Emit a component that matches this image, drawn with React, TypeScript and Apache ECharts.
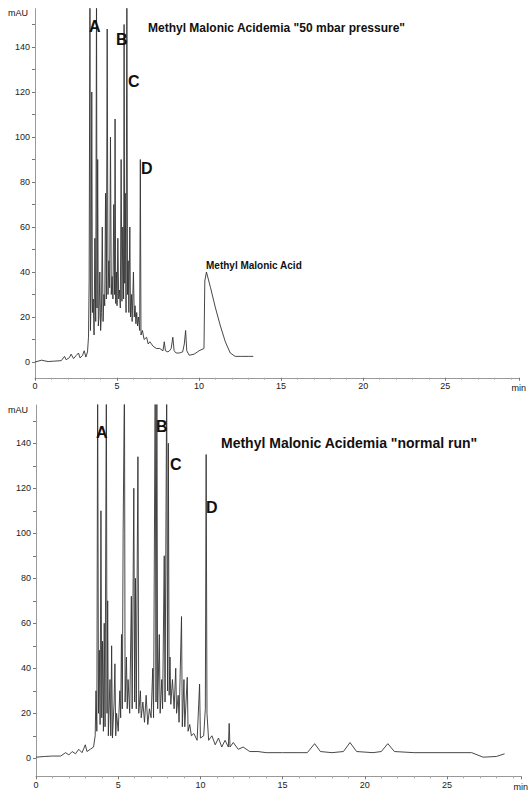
import React, { useEffect, useRef } from "react";
import * as echarts from "echarts";

// Axis tick values
const yLabelValues = [0, 20, 40, 60, 80, 100, 120, 140];
const yTickValues = [0, 10, 20, 30, 40, 50, 60, 70, 80, 90, 100, 110, 120, 130, 140, 150];

// Top chromatogram ("50 mbar pressure"): [time (min), absorbance (mAU)]
const topBaseline: [number, number][] = [
  [0, 0], [0.4, 0.8], [0.8, 0.2], [1.2, 0.4], [1.6, 0.6], [1.8, 2.5], [1.9, 1], [2.1, 2],
  [2.2, 3.5], [2.35, 1.5], [2.5, 2.8], [2.65, 4], [2.75, 1.8], [2.9, 3], [3.0, 5], [3.1, 2.2],
  [3.2, 4.5], [3.26, 11],
];
const topCluster: [number, number][] = [
  [3.3, 36], [3.35, 170], [3.38, 14], [3.42, 30], [3.46, 120], [3.5, 22], [3.55, 28], [3.6, 12],
  [3.65, 55], [3.7, 18], [3.75, 170], [3.78, 24], [3.82, 90], [3.86, 16], [3.9, 20], [3.95, 40],
  [4.0, 14], [4.05, 22], [4.1, 60], [4.15, 18], [4.2, 30], [4.25, 25], [4.3, 75], [4.35, 28],
  [4.4, 148], [4.45, 30], [4.5, 45], [4.55, 33], [4.6, 100], [4.65, 30], [4.7, 38], [4.75, 28],
  [4.8, 70], [4.85, 30], [4.88, 108], [4.92, 26], [4.96, 40], [5.0, 25], [5.05, 55], [5.1, 28],
  [5.15, 32], [5.2, 24], [5.25, 90], [5.3, 27], [5.35, 60], [5.4, 28], [5.43, 150], [5.47, 35],
  [5.5, 75], [5.55, 22], [5.6, 170], [5.64, 30], [5.68, 45], [5.72, 22], [5.78, 60], [5.82, 20],
  [5.88, 30], [5.92, 18], [6.0, 40], [6.05, 20], [6.1, 25], [6.15, 17], [6.2, 22], [6.25, 16],
  [6.3, 20], [6.38, 14], [6.42, 90], [6.46, 12],
];
const topTail: [number, number][] = [
  [6.55, 14], [6.65, 10], [6.8, 11], [6.9, 8], [7.0, 9], [7.2, 7], [7.4, 6], [7.6, 6], [7.8, 5],
  [7.88, 9], [7.95, 5], [8.1, 4.5], [8.2, 5], [8.3, 6], [8.4, 11], [8.48, 5], [8.6, 4], [8.8, 4],
  [9.0, 4.5], [9.1, 8], [9.18, 14], [9.25, 5], [9.4, 3], [9.7, 3.5], [10.0, 5], [10.3, 6],
  [10.35, 36], [10.45, 40], [10.7, 33], [11.0, 24], [11.3, 16], [11.6, 9], [11.9, 4], [12.2, 2.5],
  [12.6, 2.5], [13.0, 2.5], [13.3, 2.5],
];

// Bottom chromatogram ("normal run")
const bottomBaseline: [number, number][] = [
  [0, 0.5], [0.5, 0.8], [1.0, 1], [1.5, 1], [1.8, 2.5], [2.0, 1.5], [2.2, 3], [2.4, 2], [2.6, 4],
  [2.8, 2.5], [3.0, 6], [3.1, 3], [3.3, 4], [3.5, 5], [3.6, 10],
];
const bottomCluster: [number, number][] = [
  [3.65, 30], [3.7, 12], [3.75, 170], [3.8, 20], [3.85, 48], [3.9, 15], [3.95, 110], [4.0, 18],
  [4.05, 52], [4.1, 12], [4.15, 60], [4.2, 14], [4.28, 170], [4.32, 20], [4.36, 70], [4.4, 10],
  [4.5, 35], [4.55, 10], [4.6, 50], [4.65, 9], [4.75, 25], [4.8, 42], [4.85, 10], [4.9, 20],
  [5.0, 12], [5.1, 30], [5.15, 18], [5.2, 55], [5.25, 22], [5.3, 100], [5.38, 170], [5.42, 25],
  [5.5, 45], [5.55, 22], [5.6, 35], [5.7, 20], [5.8, 72], [5.85, 22], [5.95, 120], [6.0, 25],
  [6.05, 80], [6.1, 22], [6.2, 134], [6.25, 20], [6.35, 30], [6.4, 18], [6.5, 25], [6.6, 16],
  [6.7, 28], [6.8, 15], [6.9, 22], [7.0, 18], [7.1, 40], [7.15, 18], [7.25, 170], [7.3, 25],
  [7.35, 170], [7.4, 22], [7.5, 55], [7.55, 20], [7.65, 35], [7.7, 22], [7.8, 90], [7.85, 25],
  [7.95, 170], [8.0, 30], [8.05, 140], [8.1, 28], [8.15, 45], [8.2, 24], [8.3, 35], [8.4, 22],
  [8.5, 40], [8.55, 20], [8.65, 28], [8.7, 16], [8.85, 63], [8.9, 14], [9.0, 35], [9.05, 14],
  [9.2, 36], [9.25, 12], [9.35, 15], [9.45, 10],
];
const bottomTail: [number, number][] = [
  [9.6, 11], [9.8, 8], [9.95, 33], [10.0, 9], [10.2, 10], [10.3, 22], [10.35, 135], [10.4, 20],
  [10.5, 8], [10.7, 10], [10.9, 6], [11.1, 9], [11.3, 5], [11.5, 8], [11.7, 5], [11.75, 15.5],
  [11.8, 5], [12.0, 7], [12.3, 4], [12.6, 5], [13.0, 3], [13.5, 3], [14.0, 2.5], [15.0, 2.5],
  [16.0, 2.5], [16.5, 2.5], [16.95, 6.5], [17.3, 3], [18.0, 2.5], [18.7, 3], [19.1, 7], [19.5, 3],
  [20.5, 2.5], [21.0, 3], [21.4, 6.5], [21.8, 3], [23.0, 2.5], [25.0, 2.5], [26.5, 2.5],
  [27.2, 0.5], [28.0, 0.8], [28.5, 2],
];

const topTrace = [...topBaseline, ...topCluster, ...topTail];
const bottomTrace = [...bottomBaseline, ...bottomCluster, ...bottomTail];

const FONT = "Liberation Sans, Arial, sans-serif";

function xAxisFor(i: number) {
  return {
    type: "value",
    gridIndex: i,
    min: 0,
    max: 29.5,
    interval: 5,
    axisLine: { show: true, onZero: false, lineStyle: { color: "#999", width: 1 } },
    axisTick: { show: true, length: 3, lineStyle: { color: "#777" } },
    minorTick: { show: true, splitNumber: 5, length: 2, lineStyle: { color: "#aaa" } },
    splitLine: { show: false },
    axisLabel: {
      fontSize: 9,
      color: "#222",
      margin: 4,
      showMaxLabel: false,
      fontFamily: FONT,
    },
  };
}

function yAxisFor(i: number, min: number) {
  return {
    type: "value",
    gridIndex: i,
    min,
    max: 157,
    axisLine: { show: true, lineStyle: { color: "#999", width: 1 } },
    axisTick: { show: true, length: 3, customValues: yTickValues, lineStyle: { color: "#777" } },
    splitLine: { show: false },
    axisLabel: {
      customValues: yLabelValues,
      fontSize: 9,
      color: "#222",
      margin: 5,
      fontFamily: FONT,
    },
  };
}

function txt(x: number, y: number, text: string, size: number, bold = true, align = "left") {
  return {
    type: "text",
    x,
    y,
    style: {
      text,
      fontSize: size,
      fontWeight: bold ? "bold" : "normal",
      fontFamily: FONT,
      fill: "#111",
      align,
      verticalAlign: "middle",
    },
    z: 10,
  };
}

export default function App() {
  const ref = useRef<HTMLDivElement>(null);
  useEffect(() => {
    document.body.style.margin = "0";
    document.body.style.overflow = "hidden";
    if (!ref.current) return;
    const chart = echarts.init(ref.current, undefined, { renderer: "svg" });
    chart.setOption({
      animation: false,
      backgroundColor: "#fff",
      grid: [
        { left: 35, right: 10, top: 8.75, height: 369 },
        { left: 36, right: 8, top: 405, height: 371.3 },
      ],
      xAxis: [xAxisFor(0), xAxisFor(1)],
      yAxis: [yAxisFor(0, -7), yAxisFor(1, -8)],
      series: [
        {
          type: "line",
          xAxisIndex: 0,
          yAxisIndex: 0,
          data: topTrace,
          showSymbol: false,
          lineStyle: { color: "#333", width: 0.9 },
          clip: true,
        },
        {
          type: "line",
          xAxisIndex: 1,
          yAxisIndex: 1,
          data: bottomTrace,
          showSymbol: false,
          lineStyle: { color: "#333", width: 0.9 },
          clip: true,
        },
      ],
      graphic: [
        txt(28, 13, "mAU", 9, false, "right"),
        txt(28, 410, "mAU", 9, false, "right"),
        txt(526, 388, "min", 9, false, "right"),
        txt(528, 787, "min", 9, false, "right"),
        txt(148, 28, 'Methyl Malonic Acidemia "50 mbar pressure"', 12),
        txt(221, 443, 'Methyl Malonic Acidemia "normal run"', 14),
        txt(206, 265, "Methyl Malonic Acid", 10),
        txt(89, 26, "A", 16),
        txt(116, 39, "B", 16),
        txt(128, 81, "C", 16),
        txt(141, 168, "D", 16),
        txt(96, 432, "A", 16),
        txt(156, 426, "B", 16),
        txt(170, 464, "C", 16),
        txt(206, 507, "D", 16),
      ],
    });
    return () => chart.dispose();
  }, []);
  return <div ref={ref} style={{ width: 529, height: 791 }} />;
}
